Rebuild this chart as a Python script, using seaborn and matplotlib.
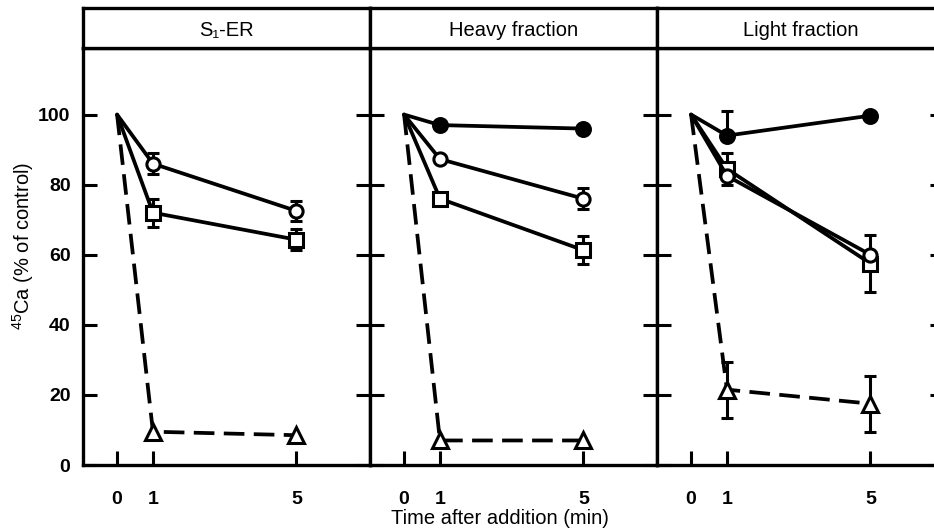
import matplotlib
matplotlib.use("Agg")
import matplotlib.pyplot as plt
import numpy as np
import pandas as pd
import seaborn as sns

# ---- data ----
times = [0, 1, 5]
panel_titles = ["S\u2081-ER", "Heavy fraction", "Light fraction"]

s1_open = [100, 86, 72.5]
s1_open_err = [0, 3, 2.8]
s1_square = [100, 72, 64.3]
s1_square_err = [0, 4, 3]
s1_tri = [100, 9.5, 8.5]

heavy_filled = [100, 97, 96]
heavy_open = [100, 87.3, 76]
heavy_open_err = [0, 0, 3]
heavy_square = [100, 76, 61.3]
heavy_square_err = [0, 0, 4]
heavy_tri = [100, 7, 7]

light_filled = [100, 94, 99.7]
light_filled_err_up = [0, 7, 0]
light_open = [100, 82.5, 60]
light_square = [100, 84.5, 57.5]
light_square_err = [0, 4.5, 8]
light_tri = [100, 21.5, 17.5]
light_tri_err = [0, 8, 8]

yticks = [0, 20, 40, 60, 80, 100]
xticks = [0, 1, 5]

sns.set_theme(style="white")
plt.rcParams['font.family'] = ['Liberation Sans', 'DejaVu Sans']
plt.rcParams['mathtext.fontset'] = 'custom'
plt.rcParams['mathtext.rm'] = 'Liberation Sans'
plt.rcParams['text.color'] = 'black'
plt.rcParams['axes.labelcolor'] = 'black'
plt.rcParams['xtick.color'] = 'black'
plt.rcParams['ytick.color'] = 'black'

W, H = 934, 531
fig = plt.figure(figsize=(W / 100, H / 100), dpi=100)

left0, pw = 83, 287
ax_bot, ax_top, strip_top = 465, 48, 8

series = {
    0: [
        ("open", s1_open, s1_open_err, s1_open_err),
        ("square", s1_square, s1_square_err, s1_square_err),
        ("tri", s1_tri, None, None),
    ],
    1: [
        ("filled", heavy_filled, None, None),
        ("open", heavy_open, heavy_open_err, heavy_open_err),
        ("square", heavy_square, heavy_square_err, heavy_square_err),
        ("tri", heavy_tri, None, None),
    ],
    2: [
        ("filled", light_filled, [0, 0, 0], light_filled_err_up),
        ("square", light_square, light_square_err, light_square_err),
        ("open", light_open, None, None),
        ("tri", light_tri, light_tri_err, light_tri_err),
    ],
}

styles = {
    "filled": dict(marker="o", markersize=10, markerfacecolor="black"),
    "open": dict(marker="o", markersize=9.5, markerfacecolor="white"),
    "square": dict(marker="s", markersize=9.5, markerfacecolor="white"),
    "tri": dict(marker="^", markersize=12, markerfacecolor="white"),
}

lw_frame = 2.4
for i in range(3):
    x0 = left0 + i * pw
    ax = fig.add_axes([x0 / W, (H - ax_bot) / H, pw / W, (ax_bot - ax_top) / H])
    sax = fig.add_axes([x0 / W, (H - ax_top) / H, pw / W, (ax_top - strip_top) / H])

    for kind, vals, elo, ehi in series[i]:
        df = pd.DataFrame({"time": times, "value": vals})
        st = styles[kind]
        ls = (0, (5.5, 2.5)) if kind == "tri" else "-"
        if elo is not None:
            ax.errorbar(times[1:], vals[1:], yerr=[elo[1:], ehi[1:]], fmt="none",
                        ecolor="black", elinewidth=2.2, capsize=4, capthick=2.2, zorder=2)
        sns.lineplot(data=df, x="time", y="value", ax=ax, color="black",
                     linewidth=2.7, linestyle=ls, markevery=[1, 2],
                     markeredgecolor="black", markeredgewidth=2.2,
                     errorbar=None, zorder=3, **st)

    ax.set_xlim(-0.95, 7.05)
    ax.set_ylim(0, 119)
    ax.set_xticks(xticks)
    ax.set_yticks(yticks)
    ax.set_xlabel("")
    ax.set_ylabel("")
    ax.tick_params(axis="both", direction="in", length=10, width=2.2, color="black",
                   labelsize=14, labelcolor="black")
    ax.tick_params(axis="y", left=True, right=True, pad=9)
    ax.tick_params(axis="x", bottom=True, top=False, pad=19)
    for lab in ax.get_xticklabels() + ax.get_yticklabels():
        lab.set_fontweight("bold")
    if i > 0:
        ax.set_yticklabels([])
    for sp in ax.spines.values():
        sp.set_linewidth(lw_frame)
        sp.set_color("black")
        sp.set_visible(True)

    sax.set_xticks([])
    sax.set_yticks([])
    for sp in sax.spines.values():
        sp.set_linewidth(lw_frame)
        sp.set_color("black")
        sp.set_visible(True)
    sax.text(0.5, 0.45, panel_titles[i], ha="center", va="center", fontsize=14.5,
             transform=sax.transAxes)

fig.text(23 / W, 1 - 246 / H, "$\\mathregular{^{45}}$Ca (% of control)", ha="center",
         va="center", rotation=90, fontsize=14.5)
fig.text(500 / W, 1 - 519 / H, "Time after addition (min)", ha="center", va="center",
         fontsize=14.5)

fig.savefig("out.png", dpi=100)
